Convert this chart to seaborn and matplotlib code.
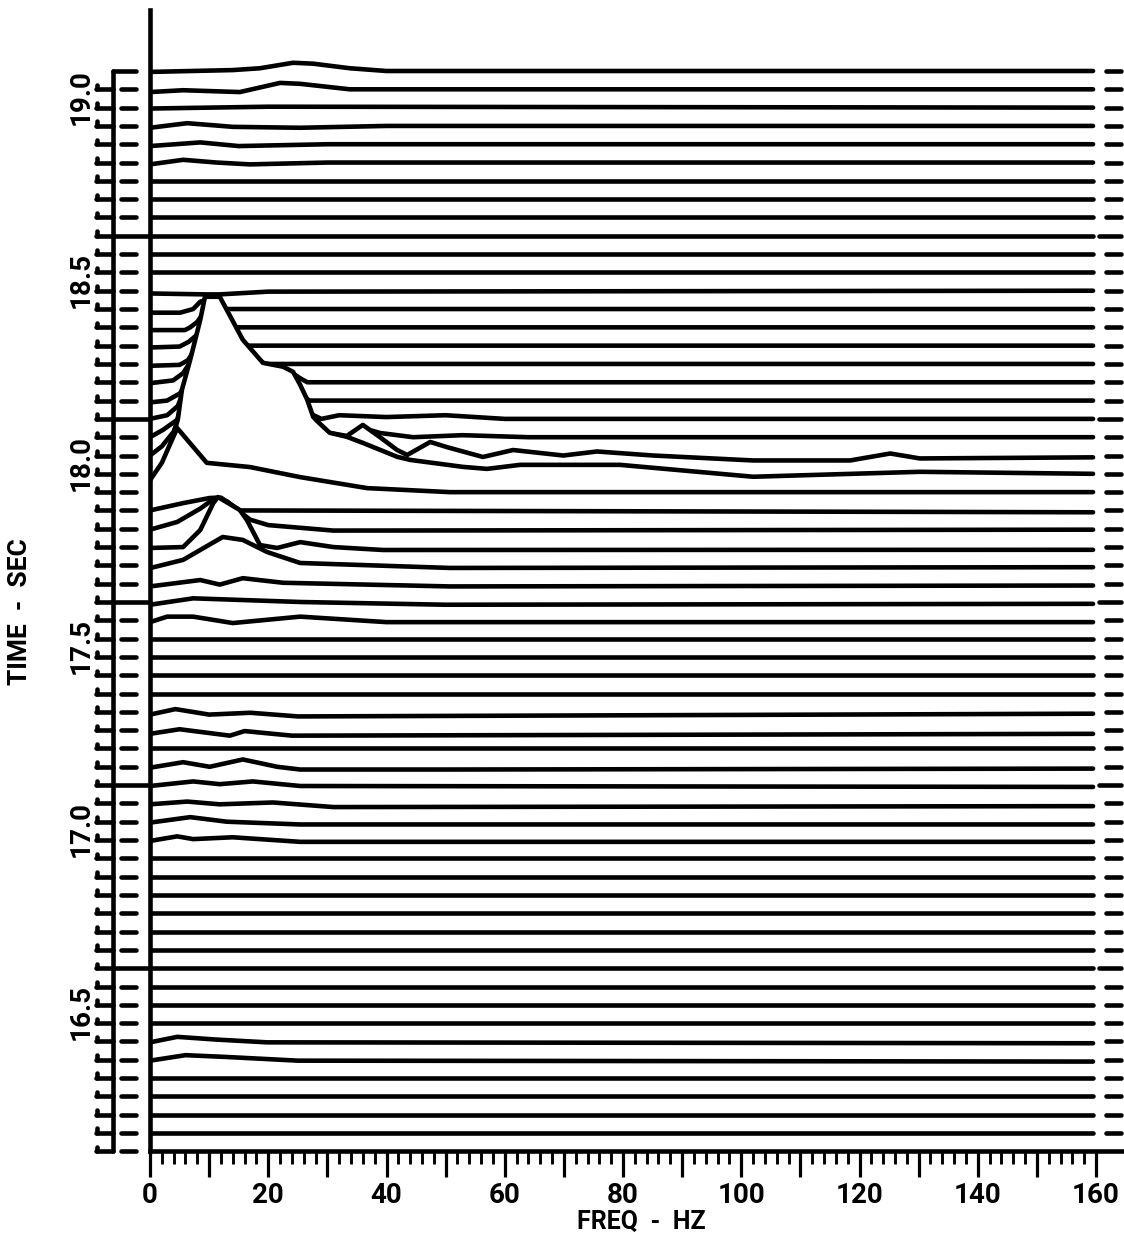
import matplotlib
matplotlib.use("Agg")
import matplotlib.pyplot as plt
from matplotlib.ticker import FixedLocator
import numpy as np
import seaborn as sns

# ---- chart data ----------------------------------------------------------
T_TOP = 19.07      # time of the uppermost spectrum (s)
DT = 0.05          # time step between spectra (s)
N_TRACES = 59
F_MAX = 159.5      # spectra are drawn up to here (Hz)

time_ticks = [16.5, 17.0, 17.5, 18.0, 18.5, 19.0]
freq_ticks = [0, 20, 40, 60, 80, 100, 120, 140, 160]
tie_rows = [9, 19, 29, 39, 49]

# knots per trace (index 0 = top): (freq Hz, amplitude in trace spacings)
upper_traces = {
    0: [(0, -0.05), (14, 0.05), (18.6, 0.15), (24.2, 0.45), (27.6, 0.4), (33.8, 0.15), (40, 0.0), (F_MAX, 0.0)],
    1: [(0, -0.15), (5.6, -0.05), (15.2, -0.15), (22, 0.35), (25.4, 0.3), (33.8, 0.0), (F_MAX, 0.0)],
    2: [(0, -0.05), (20, 0.05), (F_MAX, 0.0)],
    3: [(0, -0.1), (6.3, 0.15), (14, -0.05), (25.4, -0.1), (40, 0.0), (F_MAX, 0.0)],
    4: [(0, -0.1), (8.5, 0.1), (15, -0.1), (30, 0.0), (F_MAX, 0.0)],
    5: [(0, -0.1), (5.6, 0.15), (11.3, 0.0), (16.9, -0.1), (30, 0.0), (F_MAX, 0.0)],
}

event_traces = {
    12: [(0, -0.15), (9.3, -0.2), (11.8, -0.2), (20, -0.05), (F_MAX, 0.0)],
    13: [(0, -0.2), (5.1, -0.2), (7.3, 0.0), (8.5, 0.4), (9.5, 0.5), (11, 0.3), (12.5, 0.0), (F_MAX, 0.0)],
    14: [(0, -0.15), (5.9, -0.15), (6.8, 0.0), (8, 0.3), (10, 1.2), (12.5, 0.9), (14.5, 0.0), (F_MAX, 0.0)],
    15: [(0, -0.1), (5, -0.05), (6.5, 0.2), (8, 0.6), (10, 1.8), (13, 1.3), (16, 0.0), (F_MAX, 0.0)],
    16: [(0, -0.1), (5, -0.05), (6.4, 0.2), (8, 1.0), (10, 2.5), (14, 2.0), (17, 0.5), (19.5, 0.0), (F_MAX, 0.0)],
    17: [(0, -0.05), (3.9, 0.1), (5.6, 0.5), (7, 1.2), (10, 3.5), (14, 2.8), (19, 1.0), (22.5, 0.82),
         (25.4, 0.22), (26.6, 0.0), (F_MAX, 0.0)],
    18: [(0, -0.1), (2.9, 0.0), (5.1, 0.4), (7, 1.5), (10, 4.5), (15, 3.5), (20, 1.6), (24, 0.6), (27, 0.0), (F_MAX, 0.0)],
    19: [(0, 0.0), (2.9, 0.2), (4.7, 0.7), (6, 1.8), (8, 3.5), (10, 5.5), (15, 4.5), (20, 2.5), (25, 1.5),
         (27, 0.3), (29, 0.0), (32, 0.2), (40, 0.1), (50, 0.2), (60, 0.0), (F_MAX, 0.0)],
    20: [(0, 0.0), (2.2, 0.4), (4.6, 0.95), (6, 2.5), (8, 4.5), (10, 6.5), (15, 5.0), (20, 3.0), (25, 1.5),
         (28, 0.5), (31, 0.0), (33.3, 0.0), (36, 0.5), (38.9, 0.23), (44.5, 0.0), (52.9, 0.11), (64, 0.0),
         (F_MAX, 0.0)],
    21: [(0, 0.0), (2, 0.5), (4, 1.3), (6, 3.0), (8, 5.5), (10, 7.5), (14, 7.0), (18, 5.0), (22, 4.4),
         (24.2, 4.1), (25.4, 3.4), (26.6, 2.6), (27.6, 1.9), (28.4, 1.6), (30.4, 1.23), (33.3, 1.07),
         (36, 1.67), (38.9, 1.0), (41.8, 0.3), (43.5, 0.03), (47.4, 0.74), (50.2, 0.46), (56.3, -0.08),
         (61.4, 0.3), (69.9, 0.0), (75.6, 0.22), (85.1, 0.0), (102, -0.27), (118.4, -0.27), (125.2, 0.11),
         (130.2, -0.16), (F_MAX, -0.1)],
    22: [(0, -0.3), (1.7, 0.22), (3.4, 1.58), (4.7, 2.95), (5.4, 4.59), (6.8, 6.23), (8.5, 8.41), (9.3, 9.67),
         (11.8, 9.67), (15.7, 7.32), (19.1, 6.06), (22.5, 5.85), (24.2, 5.57), (25.4, 4.86), (26.6, 4.04),
         (27.6, 3.11), (28.4, 2.84), (30.4, 2.24), (33.3, 2.02), (36, 1.69), (41.8, 0.93), (44, 0.76),
         (52.9, 0.38), (57, 0.27), (62.6, 0.49), (79.5, 0.49), (102, -0.16), (130.2, 0.11), (F_MAX, 0.0)],
    23: [(0, 0.65), (2, 1.6), (4.6, 3.5), (9.6, 1.6), (16.9, 1.37), (25.4, 0.82), (36.7, 0.22), (50.7, 0.0), (F_MAX, 0.0)],
    24: [(0, 0.0), (5.6, 0.4), (10.1, 0.68), (12, 0.7), (15.2, 0.0), (F_MAX, -0.1)],
    25: [(0, -0.05), (4.6, 0.37), (8.5, 1.1), (11, 1.68), (13, 1.5), (16.9, 0.5), (20, 0.2), (31, -0.1), (F_MAX, -0.05)],
    26: [(0, -0.05), (5.6, 0.0), (8.5, 0.93), (10.7, 2.4), (11.5, 2.73), (15.2, 2.02), (16.4, 1.47), (18.6, 0.11),
         (21.5, -0.05), (25.4, 0.27), (31, 0.0), (39.4, -0.16), (F_MAX, -0.15)],
    27: [(0, -0.15), (5.6, 0.3), (12.3, 1.55), (15.7, 1.39), (19.8, 0.73), (25.4, 0.13), (50.7, -0.14), (F_MAX, -0.1)],
    28: [(0, -0.15), (8.5, 0.2), (11.8, -0.05), (15.7, 0.3), (22.5, 0.05), (50.7, -0.15), (F_MAX, -0.1)],
    29: [(0, -0.15), (7.3, 0.2), (25.4, 0.0), (50, -0.15), (F_MAX, -0.1)],
    30: [(0, -0.1), (2.9, 0.2), (7.3, 0.2), (14, -0.15), (25.4, 0.2), (40, -0.1), (F_MAX, -0.1)],
}

lower_traces = {
    35: [(0, -0.15), (4.3, 0.15), (10, -0.15), (17, -0.05), (25, -0.25), (F_MAX, -0.1)],
    36: [(0, -0.2), (5, 0.05), (13.5, -0.3), (16, -0.05), (24, -0.3), (F_MAX, -0.2)],
    38: [(0, -0.05), (5.6, 0.25), (10.1, 0.0), (15.7, 0.4), (21.5, 0.0), (25.4, -0.15), (50, -0.15), (F_MAX, -0.1)],
    39: [(0, -0.05), (7.3, 0.2), (11.8, 0.05), (17.4, 0.2), (25.4, -0.05), (F_MAX, -0.1)],
    40: [(0, -0.05), (6.3, 0.1), (11.8, -0.05), (20.8, 0.05), (31, -0.2), (F_MAX, -0.15)],
    41: [(0, -0.05), (6.8, 0.25), (13, 0.0), (25.4, -0.15), (F_MAX, -0.15)],
    42: [(0, -0.05), (4.6, 0.2), (7.3, 0.05), (14, 0.15), (25.4, -0.1), (F_MAX, -0.1)],
    53: [(0, -0.05), (4.6, 0.25), (11.3, 0.1), (19.8, -0.05), (F_MAX, -0.1)],
    54: [(0, -0.05), (6, 0.25), (13, 0.15), (25, -0.05), (F_MAX, -0.1)],
}

flat_trace = [(0, 0.0), (F_MAX, 0.0)]

# ---- layout (pixels of the 1124 x 1243 output) ---------------------------
W, H, DPI = 1124, 1243, 100
X0_PX = 150          # 0 Hz
PX_HZ = 5.9125       # pixels per Hz
ROW0_PX = 71         # top trace
PX_ROW = 18.31       # pixels between traces
TOP_PX = 10
BOT_PX = ROW0_PX + N_TRACES * PX_ROW   # x axis sits on row 59


def hz(px):
    return (px - X0_PX) / PX_HZ


sns.set_style("white")
plt.rcParams["font.family"] = ["Roboto", "DejaVu Sans"]
plt.rcParams["font.weight"] = "bold"

fig = plt.figure(figsize=(W / DPI, H / DPI), dpi=DPI)
ax = fig.add_axes([X0_PX / W, 1 - BOT_PX / H, (W - X0_PX) / W, (BOT_PX - TOP_PX) / H])

t_bot = T_TOP - N_TRACES * DT
t_top = T_TOP + (ROW0_PX - TOP_PX) / PX_ROW * DT
ax.set_xlim(0, hz(W))
ax.set_ylim(t_bot, t_top)

# spectra, back (top) to front (bottom), each hiding what lies behind it
spectra = {**upper_traces, **event_traces, **lower_traces}
for k in range(N_TRACES):
    knots = spectra.get(k, flat_trace)
    f = np.array([p[0] for p in knots])
    y = T_TOP - k * DT + np.array([p[1] for p in knots]) * DT
    ax.fill_between(f, y, t_bot, color="white", linewidth=0, zorder=10 + 2 * k)
    sns.lineplot(x=f, y=y, ax=ax, color="black", linewidth=3.3, estimator=None, sort=False,
                 zorder=11 + 2 * k, solid_capstyle="round", solid_joinstyle="round")

# row markers left and right of the plot
rows = T_TOP - DT * np.arange(N_TRACES + 1)
plain = [r for r in range(N_TRACES + 1) if r not in tie_rows and r != 0]
deco = dict(color="black", linewidth=3.3, clip_on=False, capstyle="round", zorder=300)

ax.vlines([hz(113)], rows[-1], rows[0], **deco)
ax.hlines(rows[1:], hz(96), hz(113), **deco)
ax.vlines(np.full(N_TRACES, hz(97)), rows[1:], rows[1:] + 0.25 * DT, **deco)
ax.hlines(rows[plain], hz(121), hz(136), **deco)
ax.hlines([rows[0]], hz(113), hz(136), **deco)
ax.hlines(rows[tie_rows], hz(113), 0, **deco)

right_plain = [r for r in range(N_TRACES) if r not in tie_rows]
ax.hlines(rows[right_plain], hz(1106), hz(1121), **deco)
ax.hlines(rows[tie_rows], hz(1099), hz(1121), **deco)

# axes frame and ticks
for side in ["top", "right"]:
    ax.spines[side].set_visible(False)
for side in ["left", "bottom"]:
    ax.spines[side].set_linewidth(3.3)
    ax.spines[side].set_color("black")
    ax.spines[side].set_zorder(500)

major = list(range(0, 161, 10))
ax.set_xticks(major, labels=[str(v) if v in freq_ticks else "" for v in major])
ax.xaxis.set_minor_locator(FixedLocator(list(range(0, 161, 2))))
ax.tick_params(axis="x", which="both", bottom=True, top=False, direction="out", color="black")
ax.tick_params(axis="x", which="major", length=19, width=2.3, pad=3, labelsize=20, labelcolor="black")
ax.tick_params(axis="x", which="minor", length=9.5, width=2.1)

ax.set_yticks(time_ticks, labels=[f"{t:.1f}" for t in time_ticks])
ax.tick_params(axis="y", which="both", left=False, length=0, pad=40, labelsize=20, labelcolor="black")
for lbl in ax.get_yticklabels():
    lbl.set_rotation(90)
    lbl.set_va("center")
    lbl.set_ha("right")

ax.set_xlabel("FREQ  -  HZ", fontsize=18, fontweight="bold", color="black")
ax.xaxis.set_label_coords((641 - X0_PX) / (W - X0_PX), -(1210 - BOT_PX) / (BOT_PX - TOP_PX))
ax.set_ylabel("TIME  -  SEC", fontsize=19, fontweight="bold", color="black")
ax.yaxis.set_label_coords(-(X0_PX - 32) / (W - X0_PX), (BOT_PX - 612) / (BOT_PX - TOP_PX))

fig.savefig("out.png", dpi=DPI, facecolor="white")
